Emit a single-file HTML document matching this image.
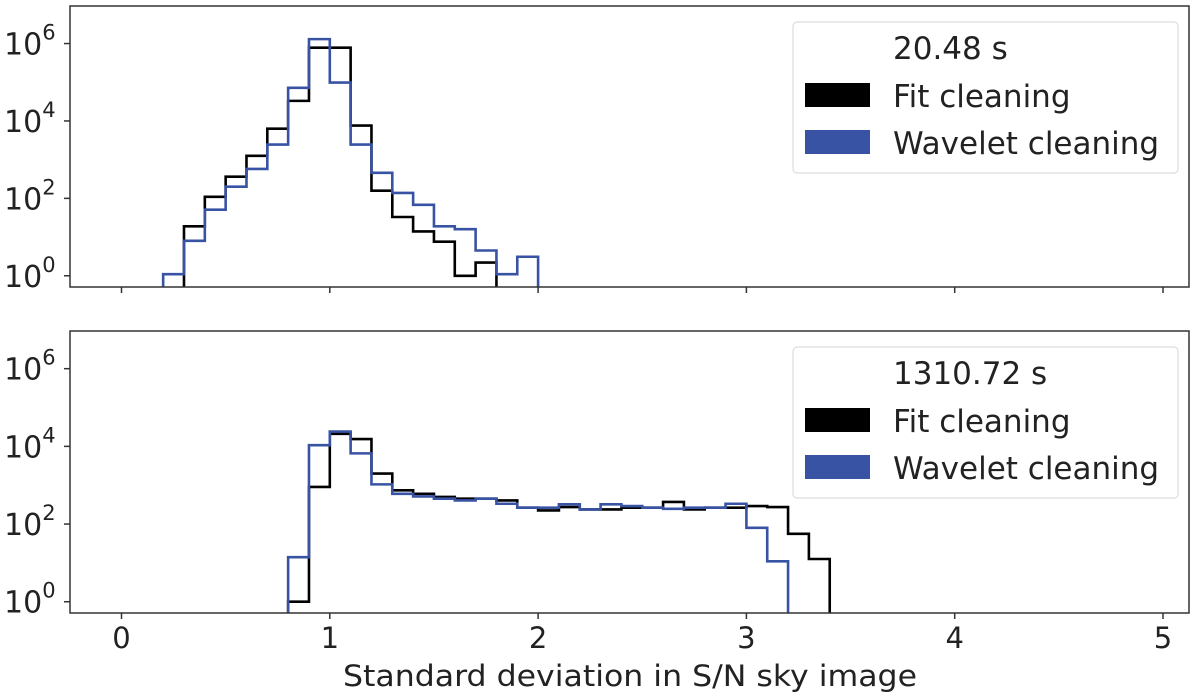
<!DOCTYPE html>
<html><head><meta charset="utf-8"><style>
html,body{margin:0;padding:0;background:#fff;}
svg{display:block;font-family:"DejaVu Sans","Liberation Sans",sans-serif;}
</style></head><body>
<svg id="chart" width="1200" height="700" viewBox="0 0 1200 700"></svg>
<script>
const binWidth = 0.1;
const topBlueStart = 0.2;
const topBlueCounts = [1.1, 8, 51, 200, 575, 2450, 72000, 1300000, 98000, 2450, 457, 138, 68, 19, 16, 4.5, 1.1, 3.1];
const topBlackStart = 0.3;
const topBlackCounts = [19, 110, 363, 1260, 6300, 33000, 780000, 780000, 7600, 158, 33, 14, 7.6, 1, 2.2];
const botBlueStart = 0.8;
const botBlueCounts = [14, 10700, 24000, 6600, 1050, 600, 515, 450, 405, 450, 333, 263, 263, 322, 238, 322, 290, 263, 247, 263, 263, 333, 80, 11];
const botBlackStart = 0.8;
const botBlackCounts = [1, 900, 21000, 15400, 2000, 740, 600, 500, 450, 450, 405, 263, 224, 274, 238, 238, 263, 263, 370, 238, 263, 263, 290, 274, 56, 12.6];
const xTicks = [0, 1, 2, 3, 4, 5];
const yTickExps = [0, 2, 4, 6];
const panelTitles = ["20.48 s", "1310.72 s"];
const seriesNames = ["Fit cleaning", "Wavelet cleaning"];

const NS = "http://www.w3.org/2000/svg";
const svg = document.getElementById("chart");
function mk(tag, attrs, parent) {
  const e = document.createElementNS(NS, tag);
  for (const k in attrs) e.setAttribute(k, attrs[k]);
  (parent || svg).appendChild(e);
  return e;
}
const X0 = 121.5, XS = 208.3;
const xPx = v => X0 + XS * v;
const L = 70, R = 1189;
const LOGMIN = -0.29, LOGMAX = 6.97;
const BLUE = "#3953a4";

const panels = [
  {top: 6, bottom: 287, blue: [topBlueStart, topBlueCounts], black: [topBlackStart, topBlackCounts], title: panelTitles[0], name: "top"},
  {top: 331, bottom: 613, blue: [botBlueStart, botBlueCounts], black: [botBlackStart, botBlackCounts], title: panelTitles[1], name: "bottom"}
];

panels.forEach((p, pi) => {
  const yPx = c => p.bottom - (Math.log10(c) - LOGMIN) / (LOGMAX - LOGMIN) * (p.bottom - p.top);
  const g = mk("g", {});
  
  
  const cp = mk("clipPath", {id: "clip" + pi}, g);
  mk("rect", {x: L, y: p.top, width: R - L, height: p.bottom - p.top}, cp);

  function hist(start, counts, color, nm) {
    let d = "M" + xPx(start) + "," + p.bottom;
    counts.forEach((c, i) => {
      const x0 = xPx(start + i * binWidth), x1 = xPx(start + (i + 1) * binWidth);
      const y = yPx(Math.max(c, 1e-3));
      d += " L" + x0 + "," + y + " L" + x1 + "," + y;
    });
    d += " L" + xPx(start + counts.length * binWidth) + "," + p.bottom;
    const path = mk("path", {d: d, fill: "none", stroke: color, "stroke-width": 2.6, "stroke-linejoin": "miter", "clip-path": "url(#clip" + pi + ")"}, g);
    
    
  }
  hist(p.black[0], p.black[1], "#000", p.name + "-fit-cleaning-histogram");
  hist(p.blue[0], p.blue[1], BLUE, p.name + "-wavelet-cleaning-histogram");

  const frame = mk("rect", {x: L, y: p.top, width: R - L, height: p.bottom - p.top, fill: "none", stroke: "#333", "stroke-width": 1.5}, g);
  
  

  yTickExps.forEach(e => {
    const y = yPx(Math.pow(10, e));
    mk("line", {x1: L - 6, x2: L, y1: y, y2: y, stroke: "#333", "stroke-width": 1.5}, g);
    const t = mk("text", {x: 4, y: y + 11, "font-size": 30, fill: "#222"}, g);
    
    
    t.textContent = "10";
    const s = mk("tspan", {dy: -15, "font-size": 21}, t);
    s.textContent = String(e);
  });
  xTicks.forEach(v => {
    mk("line", {x1: xPx(v), x2: xPx(v), y1: p.bottom, y2: p.bottom + 6, stroke: "#333", "stroke-width": 1.5}, g);
    if (pi === 1) {
      const t = mk("text", {x: xPx(v), y: 648, "font-size": 29, fill: "#222", "text-anchor": "middle"}, g);
      
      
      t.textContent = String(v);
    }
  });

  const off = p.top - 6;
  const lg = mk("g", {}, g);
  
  
  mk("rect", {x: 793, y: 22 + off, width: 385, height: 151, rx: 4, fill: "#fff", stroke: "#ddd", "stroke-width": 1.2}, lg);
  const tt = mk("text", {x: 893, y: 59 + off, "font-size": 31, fill: "#222"}, lg);
  
  
  tt.textContent = p.title;
  [["#000", seriesNames[0], 107], [BLUE, seriesNames[1], 154]].forEach((it, k) => {
    const pr = mk("rect", {x: 805, y: it[2] - 24 + off, width: 65, height: 24, fill: it[0]}, lg);
    
    
    const lt = mk("text", {x: 893, y: it[2] + off, "font-size": 31, fill: "#222"}, lg);
    
    
    lt.textContent = it[1];
  });
});

const xl = mk("text", {x: 630, y: 686, "font-size": 29, fill: "#222", "text-anchor": "middle", textLength: 574, lengthAdjust: "spacingAndGlyphs"});


xl.textContent = "Standard deviation in S/N sky image";
</script>
</body></html>
